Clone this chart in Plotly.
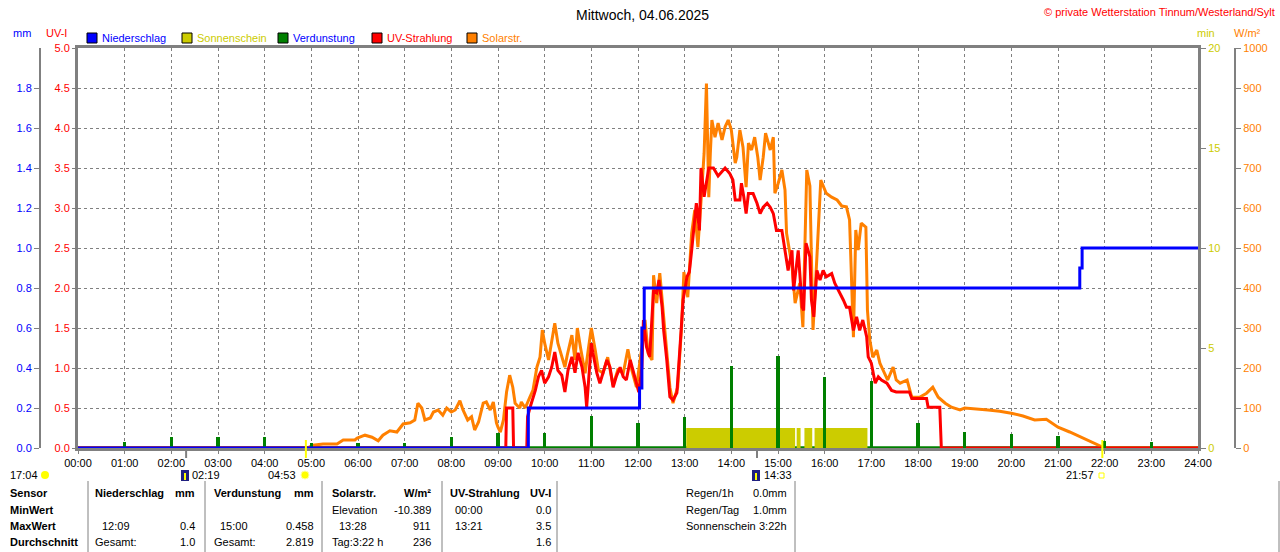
import plotly.graph_objects as go

# ---- values ----
SOLAR_T = ["00:00", "04:55", "05:02", "05:15", "05:33", "05:41", "05:56", "05:59", "06:09", "06:18",
           "06:26", "06:32", "06:41", "06:50", "06:58", "07:07", "07:13", "07:17", "07:22", "07:26",
           "07:33", "07:37", "07:43", "07:49", "07:54", "08:00", "08:05", "08:11", "08:15", "08:21",
           "08:26", "08:30", "08:35", "08:41", "08:45", "08:50", "08:54", "08:58", "09:00", "09:03",
           "09:07", "09:11", "09:15", "09:19", "09:22", "09:28", "09:30", "09:35", "09:41", "09:45",
           "09:50", "09:54", "09:57", "10:00", "10:05", "10:09", "10:13", "10:17", "10:22", "10:26",
           "10:29", "10:35", "10:39", "10:42", "10:46", "10:52", "10:56", "11:00", "11:05", "11:09",
           "11:15", "11:21", "11:28", "11:34", "11:41", "11:47", "11:52", "11:58", "12:05", "12:09",
           "12:13", "12:18", "12:20", "12:24", "12:28", "12:32", "12:37", "12:41", "12:45", "12:51",
           "12:56", "12:59", "13:04", "13:09", "13:13", "13:17", "13:22", "13:25", "13:28", "13:31",
           "13:33", "13:35", "13:39", "13:43", "13:48", "13:52", "13:56", "14:00", "14:05", "14:07",
           "14:11", "14:15", "14:19", "14:22", "14:26", "14:30", "14:34", "14:37", "14:41", "14:44",
           "14:50", "14:54", "14:56", "15:00", "15:05", "15:09", "15:11", "15:18", "15:22", "15:28",
           "15:32", "15:37", "15:41", "15:45", "15:50", "15:55", "16:02", "16:09", "16:16", "16:22",
           "16:28", "16:32", "16:37", "16:40", "16:43", "16:47", "16:53", "16:55", "16:58", "17:02",
           "17:07", "17:11", "17:15", "17:21", "17:28", "17:32", "17:37", "17:46", "17:52", "18:02",
           "18:11", "18:19", "18:26", "18:35", "18:43", "18:54", "19:00", "19:15", "19:30", "19:45",
           "20:00", "20:15", "20:30", "20:45", "21:00", "21:15", "21:30", "21:45", "21:55", "22:00",
           "24:00"]
SOLAR_W = [0, 0, 7, 10, 10, 20, 20, 25, 32, 27,
           18, 32, 43, 40, 60, 63, 70, 112, 100, 70,
           75, 90, 95, 82, 100, 90, 95, 118, 95, 70,
           78, 45, 65, 112, 115, 95, 115, 63, 52, 40,
           70, 140, 182, 152, 112, 100, 115, 100, 127, 145,
           202, 227, 295, 262, 220, 270, 312, 262, 227, 202,
           232, 282, 220, 300, 252, 187, 245, 300, 245, 195,
           187, 227, 157, 195, 187, 247, 195, 152, 252, 320,
           237, 220, 432, 362, 437, 345, 245, 152, 112, 152,
           302, 440, 377, 537, 595, 502, 645, 737, 911, 627,
           737, 820, 777, 812, 770, 803, 820, 795, 712, 727,
           795, 752, 652, 762, 745, 777, 727, 670, 727, 787,
           745, 777, 637, 660, 695, 645, 537, 455, 362, 412,
           302, 695, 655, 295, 477, 670, 637, 627, 620, 605,
           603, 570, 277, 545, 495, 562, 552, 345, 270, 227,
           245, 212, 195, 170, 202, 170, 162, 170, 127, 127,
           137, 152, 127, 112, 102, 95, 100, 98, 95, 92,
           87, 80, 70, 72, 52, 40, 27, 15, 5, 0,
           0]

UV_T = ["00:00", "09:10", "09:11", "09:19", "09:20", "09:37", "09:38", "09:41", "09:48", "09:52",
        "09:56", "10:00", "10:05", "10:09", "10:13", "10:17", "10:22", "10:26", "10:30", "10:35",
        "10:39", "10:43", "10:48", "10:52", "10:54", "10:57", "11:00", "11:02", "11:07", "11:11",
        "11:15", "11:20", "11:24", "11:28", "11:32", "11:37", "11:41", "11:45", "11:50", "11:54",
        "11:58", "12:01", "12:05", "12:07", "12:11", "12:15", "12:20", "12:24", "12:27", "12:31",
        "12:33", "12:37", "12:41", "12:45", "12:50", "12:54", "12:58", "13:03", "13:06", "13:09",
        "13:15", "13:19", "13:21", "13:25", "13:31", "13:37", "13:43", "13:52", "13:58", "14:02",
        "14:05", "14:11", "14:13", "14:16", "14:19", "14:22", "14:28", "14:33", "14:37", "14:41",
        "14:46", "14:50", "14:54", "14:58", "15:05", "15:09", "15:13", "15:18", "15:20", "15:26",
        "15:31", "15:33", "15:36", "15:41", "15:43", "15:46", "15:50", "15:54", "15:58", "16:02",
        "16:09", "16:13", "16:20", "16:24", "16:28", "16:32", "16:37", "16:41", "16:45", "16:49",
        "16:54", "16:56", "17:00", "17:05", "17:09", "17:13", "17:20", "17:26", "17:32", "17:49",
        "17:52", "18:11", "18:13", "18:28", "18:30", "24:00"]
UV_I = [0, 0, 0.5, 0.5, 0, 0, 0.39, 0.5, 0.72, 0.89,
        0.97, 0.81, 0.89, 1.01, 1.2, 0.97, 0.91, 0.70, 0.97, 1.14,
        0.94, 1.19, 1.01, 0.76, 0.51, 0.97, 1.31, 1.19, 0.94, 0.81,
        0.94, 1.1, 1.01, 0.76, 0.89, 1.01, 0.89, 0.85, 1.1, 0.97,
        0.81, 0.7, 1.01, 1.6, 1.26, 1.14, 1.97, 1.94, 2.1, 1.76,
        1.47, 1.1, 0.64, 0.6, 0.69, 1.26, 1.85, 2.14, 2.2, 2.47,
        3.06, 2.72, 3.5, 3.14, 3.5, 3.5, 3.4, 3.5, 3.43, 3.35,
        3.1, 3.1, 3.31, 3.14, 2.93, 3.18, 3.18, 3.06, 2.93, 3.01,
        3.06, 3.01, 2.93, 2.72, 2.72, 2.47, 2.22, 2.47, 1.97, 2.47,
        1.76, 1.72, 2.56, 2.39, 1.85, 1.64, 2.22, 2.1, 2.22, 2.14,
        2.18, 2.06, 1.93, 1.85, 1.76, 1.76, 1.47, 1.64, 1.47, 1.6,
        1.39, 1.14, 1.06, 0.81, 0.89, 0.85, 0.81, 0.72, 0.7, 0.7,
        0.62, 0.62, 0.51, 0.51, 0, 0]

RAIN_T = ["00:00", "09:39", "12:02", "12:05", "12:08", "21:28", "21:31", "24:00"]
RAIN_MM = [0, 0.2, 0.3, 0.6, 0.8, 0.9, 1.0, 1.0]

EVAP_T = ["01:00", "02:00", "03:00", "04:00", "05:00", "06:00", "07:00", "08:00", "09:00", "10:00",
          "11:00", "12:00", "13:00", "14:00", "15:00", "16:00", "17:00", "18:00", "19:00", "20:00",
          "21:00", "22:00", "23:00"]
EVAP_MM = [0.03, 0.055, 0.055, 0.055, 0.025, 0.025, 0.025, 0.055, 0.075, 0.075,
           0.16, 0.125, 0.155, 0.41, 0.46, 0.355, 0.335, 0.125, 0.08, 0.07,
           0.06, 0.035, 0.03]

SUN_T = ["00:00", "13:02", "15:22", "15:24", "15:29", "15:34", "15:44", "15:47", "16:55", "24:00"]
SUN_MIN = [0, 1, 0, 1, 0, 1, 0, 1, 0, 0]

HOUR_LABELS = ["%02d:00" % h for h in range(25)]

BLUE, YELLOW, GREEN, RED, ORANGE, GRAY = "#0000ff", "#cccc00", "#008000", "#ff0000", "#ff8000", "#808080"
FONT = "Liberation Sans"

W, H = 1280, 552
PL, PR, PT, PB = 78, 1198, 48, 448


def hours(t):
    h, m = t.split(":")
    return int(h) + int(m) / 60


def px(x):
    return x / W


def py(y):
    return (PB - y) / (PB - PT)


fig = go.Figure()

fig.add_trace(go.Scatter(x=[hours(t) for t in SUN_T], y=SUN_MIN, yaxis="y", mode="lines",
                         line=dict(shape="hv", width=0, color=YELLOW), fill="tozeroy",
                         fillcolor=YELLOW, name="Sonnenschein"))
fig.add_trace(go.Scatter(x=[hours(t) for t in SOLAR_T], y=SOLAR_W, yaxis="y2", mode="lines",
                         line=dict(color=ORANGE, width=3), name="Solarstr."))
fig.add_trace(go.Scatter(x=[hours(t) for t in UV_T], y=UV_I, yaxis="y3", mode="lines",
                         line=dict(color=RED, width=3), name="UV-Strahlung"))
fig.add_trace(go.Bar(x=[hours(t) for t in EVAP_T], y=EVAP_MM, yaxis="y4", width=0.07,
                     marker=dict(color=GREEN, line=dict(width=0)), name="Verdunstung"))
fig.add_trace(go.Scatter(x=[hours(t) for t in RAIN_T], y=RAIN_MM, yaxis="y4", mode="lines",
                         line=dict(color=BLUE, width=3, shape="hv"), name="Niederschlag"))

grid = dict(gridcolor=GRAY, griddash="3px,3px", gridwidth=1)
common = dict(automargin=False, zeroline=False, ticks="outside", ticklen=5, tickcolor=GRAY)

fig.update_layout(
    width=W, height=H, margin=dict(l=0, r=0, t=PT, b=H - PB, autoexpand=False),
    paper_bgcolor="white", plot_bgcolor="white", showlegend=False, bargap=0,
    font=dict(family=FONT, size=11, color="black"),
    xaxis=dict(domain=[px(PL), px(PR)], range=[0, 24], tickvals=list(range(25)), ticktext=HOUR_LABELS,
               showline=True, mirror=True, linecolor=GRAY, linewidth=3, automargin=False,
               ticks="outside", ticklen=3, tickcolor=GRAY, zeroline=False,
               tickfont=dict(family=FONT, size=11, color="black"), showgrid=True, **grid),
    yaxis=dict(range=[0, 20], side="right", tick0=0, dtick=5,
               tickfont=dict(family=FONT, size=11, color=YELLOW), showline=True, mirror=True,
               linecolor=GRAY, linewidth=3, showgrid=False, **common),
    yaxis2=dict(range=[0, 1000], overlaying="y", anchor="free", position=px(1235), side="right",
                dtick=100, tickfont=dict(family=FONT, size=11, color=ORANGE), showline=True,
                linecolor=GRAY, linewidth=2, showgrid=False, **common),
    yaxis3=dict(range=[0, 5], overlaying="y", anchor="x", side="left", dtick=0.5, tickformat=".1f",
                tickfont=dict(family=FONT, size=11, color=RED), showline=False, showgrid=True,
                **grid, **common),
    yaxis4=dict(range=[0, 2], overlaying="y", anchor="free", position=px(40), side="left",
                tickvals=[0, 0.2, 0.4, 0.6, 0.8, 1.0, 1.2, 1.4, 1.6, 1.8], tickformat=".1f",
                tickfont=dict(family=FONT, size=11, color=BLUE), showline=True, linecolor=GRAY,
                linewidth=2, showgrid=False, **common),
)

shapes = []
ann = []


def text(x, y, s, color="black", anchor="left", size=11):
    ann.append(dict(x=px(x), y=py(y), xref="paper", yref="paper", text=s,
                    showarrow=False, xanchor=anchor, yanchor="middle",
                    font=dict(family=FONT, size=size, color=color)))


# green baseline of the evaporation series
shapes.append(dict(type="line", xref="x", yref="y4", x0=0, x1=24, y0=0.004, y1=0.004,
                   line=dict(color=GREEN, width=2), layer="below"))

# title, copyright, axis titles
text(642, 15, "Mittwoch, 04.06.2025", anchor="center", size=14)
text(1277, 12, "© private Wetterstation Tinnum/Westerland/Sylt", color=RED, anchor="right")
text(22, 33, "mm", color=BLUE, anchor="center")
text(56, 33, "UV-I", color=RED, anchor="center")
text(1206, 33, "min", color=YELLOW, anchor="center")
text(1247, 33, "W/m²", color=ORANGE, anchor="center")

# legend
for x0, label, fill, fc in [(87, "Niederschlag", BLUE, BLUE), (182, "Sonnenschein", YELLOW, YELLOW),
                            (278, "Verdunstung", GREEN, BLUE), (372, "UV-Strahlung", RED, RED),
                            (467, "Solarstr.", ORANGE, ORANGE)]:
    shapes.append(dict(type="rect", xref="paper", yref="paper", x0=px(x0), x1=px(x0 + 10),
                       y0=py(43), y1=py(33), fillcolor=fill, line=dict(color="black", width=1)))
    text(x0 + 13, 38, label, color=fc)

# moon / sun rise and set marks
for t, col, top in [("02:19", GRAY, 448), ("14:33", GRAY, 448), ("04:53", "#ffff00", 440),
                    ("21:57", "#ffff00", 440)]:
    shapes.append(dict(type="line", xref="x", yref="paper", x0=hours(t), x1=hours(t), y0=py(top),
                       y1=py(458), line=dict(color=col, width=2)))
AY = 475
text(8, AY, "17:04")
shapes.append(dict(type="circle", xref="paper", yref="paper", x0=px(41), x1=px(49), y0=py(AY + 4),
                   y1=py(AY - 4), fillcolor="#ffff00", line=dict(width=0)))
for x0 in (181, 752):
    shapes.append(dict(type="rect", xref="paper", yref="paper", x0=px(x0), x1=px(x0 + 8),
                       y0=py(AY + 6), y1=py(AY - 5), fillcolor="#202080", line=dict(width=0)))
    shapes.append(dict(type="rect", xref="paper", yref="paper", x0=px(x0 + 3), x1=px(x0 + 5),
                       y0=py(AY + 5), y1=py(AY - 2), fillcolor="#ffff00", line=dict(width=0)))
text(190, AY, "02:19")
text(298, AY, "04:53", anchor="right")
shapes.append(dict(type="circle", xref="paper", yref="paper", x0=px(301), x1=px(309), y0=py(AY + 4),
                   y1=py(AY - 4), fillcolor="#ffff00", line=dict(color="#ffffa0", width=1)))
text(762, AY, "14:33")
text(1096, AY, "21:57", anchor="right")
shapes.append(dict(type="rect", xref="paper", yref="paper", x0=px(1099), x1=px(1104), y0=py(AY + 3),
                   y1=py(AY - 2), line=dict(color="#ffff00", width=1)))

# statistics table
for x in (88, 205, 322, 442, 557, 795, 1279):
    shapes.append(dict(type="line", xref="paper", yref="paper", x0=px(x), x1=px(x), y0=py(481),
                       y1=py(552), line=dict(color=GRAY, width=1)))

ROWS = [493, 510, 526, 542]
for y, s in zip(ROWS, ["Sensor", "MinWert", "MaxWert", "Durchschnitt"]):
    text(8, y, "<b>%s</b>" % s)
for x, s in [(93, "Niederschlag"), (212, "Verdunstung"), (330, "Solarstr."), (448, "UV-Strahlung")]:
    text(x, ROWS[0], "<b>%s</b>" % s)
for x, s in [(197, "mm"), (316, "mm"), (433, "W/m²"), (553, "UV-I")]:
    text(x, ROWS[0], "<b>%s</b>" % s, anchor="right")

cells_left = [(330, 1, "Elevation"), (453, 1, "00:00"),
              (100, 2, "12:09"), (218, 2, "15:00"), (337, 2, "13:28"), (453, 2, "13:21"),
              (93, 3, "Gesamt:"), (212, 3, "Gesamt:"), (330, 3, "Tag:3:22 h"),
              (684, 0, "Regen/1h"), (684, 1, "Regen/Tag"), (684, 2, "Sonnenschein")]
cells_right = [(433, 1, "-10.389"), (553, 1, "0.0"),
               (197, 2, "0.4"), (316, 2, "0.458"), (433, 2, "911"), (553, 2, "3.5"),
               (197, 3, "1.0"), (316, 3, "2.819"), (433, 3, "236"), (553, 3, "1.6"),
               (789, 0, "0.0mm"), (789, 1, "1.0mm"), (789, 2, "3:22h")]
for x, r, s in cells_left:
    text(x, ROWS[r], s)
for x, r, s in cells_right:
    text(x, ROWS[r], s, anchor="right")

fig.update_layout(shapes=shapes, annotations=ann)
fig.write_html("out.html", config={"displayModeBar": False},
               post_script="document.body.style.margin='0px';")
